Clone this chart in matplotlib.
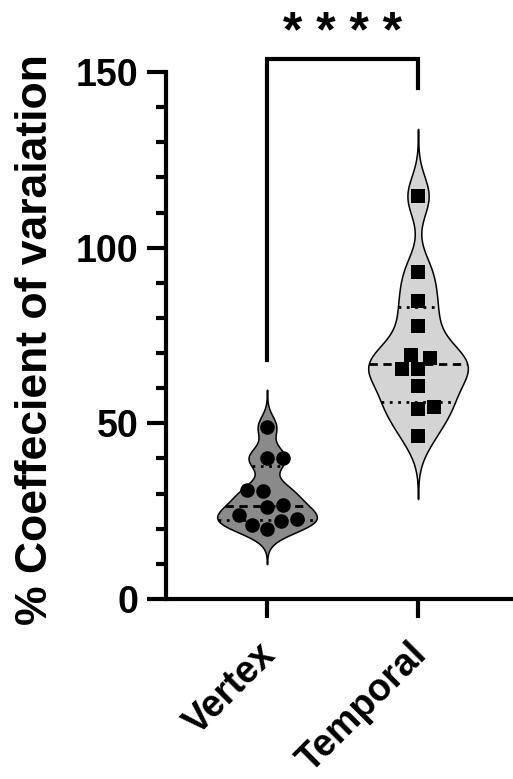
import numpy as np
import matplotlib
matplotlib.use('Agg')
import matplotlib.pyplot as plt
from matplotlib.transforms import ScaledTranslation

plt.rcParams['font.family'] = ['Liberation Sans', 'DejaVu Sans']
plt.rcParams['font.weight'] = 'bold'

# data
groups = ["Vertex", "Temporal"]
vertex = [49.0, 40.0, 40.1, 30.7, 31.0, 26.8, 26.3, 23.9, 22.8, 22.2, 21.1, 19.9]
temporal = [114.7, 93.0, 84.9, 77.8, 69.5, 65.4, 68.5, 65.5, 60.6, 54.7, 54.1, 46.5]
fills = ["#8a8a8a", "#d4d4d4"]
markers = ["o", "s"]
bandwidths = [3.1, 5.6]
ylabel = "% Coeffecient of varaiation"
sig_text = "* * * *"


def kde(vals, grid, bw):
    vals = np.asarray(vals)
    d = np.exp(-0.5 * ((grid[:, None] - vals[None, :]) / bw) ** 2).sum(axis=1)
    return d / d.max()


def swarm(vals, d_px, px_per_unit, px_per_x):
    # simple beeswarm: place each point as near centre as possible
    ys = np.asarray(vals) * px_per_unit
    order = np.argsort(ys)
    placed = []
    xs = np.zeros(len(ys))
    side = 1
    for i in order:
        cands = [0.0]
        for (xj, yj) in placed:
            dy = abs(ys[i] - yj)
            if dy < d_px:
                dx = np.sqrt(d_px ** 2 - dy ** 2)
                cands += [xj + dx, xj - dx]
        cands = sorted(cands, key=lambda c: (round(abs(c), 3), -side * c))
        for c in cands:
            ok = all((c - xj) ** 2 + (ys[i] - yj) ** 2 >= d_px ** 2 - 1e-6 for (xj, yj) in placed)
            if ok:
                xs[i] = c
                placed.append((c, ys[i]))
                side = -side
                break
    return xs / px_per_x


fig = plt.figure(figsize=(5.13, 7.79), dpi=100)
ax = fig.add_axes([166 / 513, 1 - 599 / 779, 347 / 513, 527 / 779])
ax.set_xlim(-0.669, 1.629)
ax.set_ylim(0, 150)

half_w = 0.33
for k, vals in enumerate([vertex, temporal]):
    bw = bandwidths[k]
    grid = np.linspace(min(vals) - 3.2 * bw, max(vals) + 3.4 * bw, 400)
    dens = kde(vals, grid, bw) * half_w
    ax.fill_betweenx(grid, k - dens, k + dens, facecolor=fills[k], edgecolor="black", lw=1.1, zorder=2)
    ax.plot([k, k], [grid[0], grid[-1]], color="black", lw=1.0, zorder=1)
    q1, med, q3 = np.percentile(vals, [25, 50, 75], method="weibull")
    for q, ls in [(q1, (0, (1, 2))), (med, (0, (3, 2))), (q3, (0, (1, 2)))]:
        w = np.interp(q, grid, dens)
        ax.plot([k - w, k + w], [q, q], color="black", lw=2.0, ls=ls, zorder=3)
    xo = swarm(vals, 16, 527 / 150, 151)
    ax.scatter(k + xo, vals, marker=markers[k], s=110 if k == 0 else 95, color="black", zorder=4, linewidths=0)

# significance bracket
ax.plot([0, 0, 1, 1], [68, 153.8, 153.8, 145.5], color="black", lw=3, clip_on=False, solid_joinstyle="miter")
ax.text(0.5, 157, sig_text, ha="center", va="baseline", fontsize=36, fontweight="bold")

ax.spines["top"].set_visible(False)
ax.spines["right"].set_visible(False)
ax.spines["left"].set_linewidth(3)
ax.spines["bottom"].set_linewidth(3)
ax.set_yticks([0, 50, 100, 150])
ax.set_yticks(np.arange(0, 151, 10), minor=True)
ax.set_xticks([0, 1])
ax.set_xticklabels(groups, rotation=45, ha="right", rotation_mode="anchor", fontsize=27, fontweight="bold")
ax.tick_params(axis="y", which="major", length=14, width=3, labelsize=27, pad=6)
ax.tick_params(axis="y", which="minor", length=7, width=3)
ax.tick_params(axis="x", length=14, width=3, pad=13)
for lab in ax.get_yticklabels():
    lab.set_fontweight("bold")
shift = ScaledTranslation(-9 / 100, 0, fig.dpi_scale_trans)
for lab in ax.get_xticklabels():
    lab.set_transform(lab.get_transform() + shift)

fig.text(36 / 513, 1 - 340 / 779, ylabel, rotation=90, ha="center", va="center", fontsize=32, fontweight="bold")

fig.savefig("out.png", dpi=100)
